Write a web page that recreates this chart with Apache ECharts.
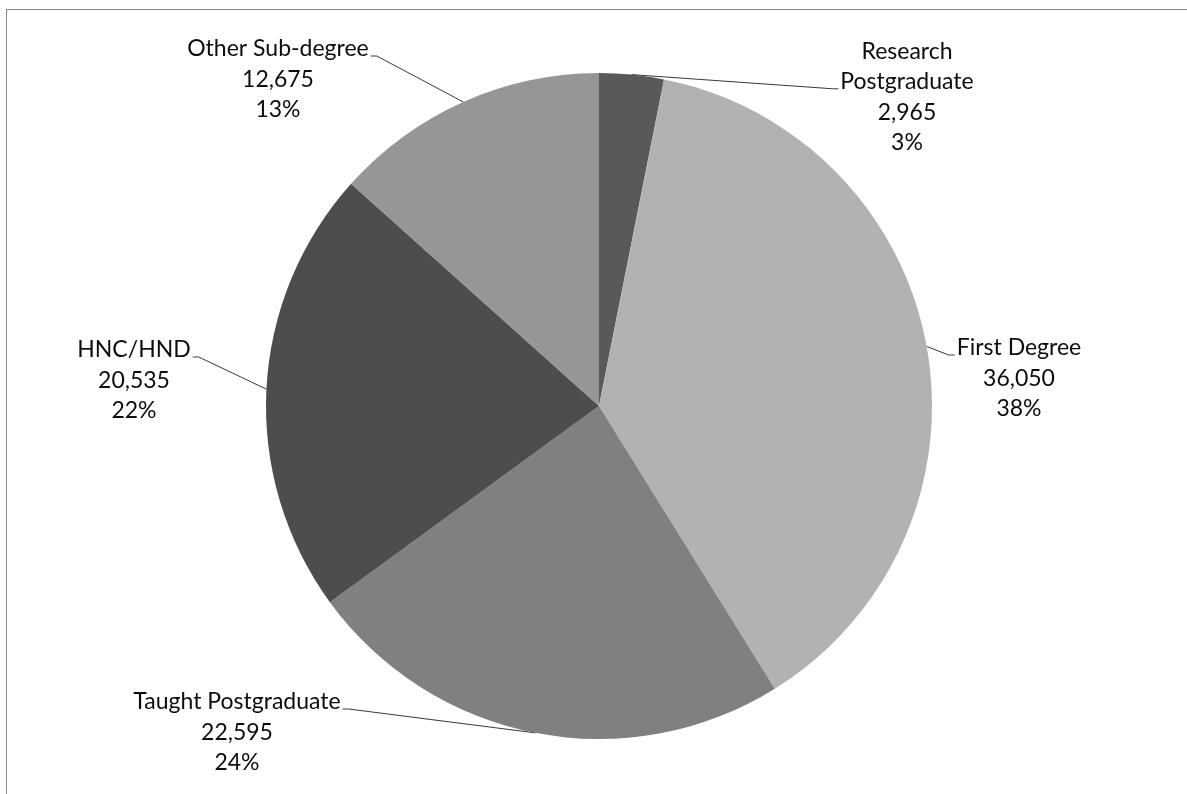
<!DOCTYPE html>
<html>
<head>
<meta charset="utf-8">
<script src="https://cdn.jsdelivr.net/npm/echarts@6/dist/echarts.min.js"></script>
<style>
  html, body { margin: 0; padding: 0; background: #ffffff; }
  #chart { position: absolute; left: 0; top: 0; width: 1187px; height: 794px; }
  #frame { position: absolute; left: 6px; top: 9px; right: 0; bottom: 0;
           border-top: 1px solid #868686; border-left: 1px solid #868686; pointer-events: none; }
</style>
</head>
<body>
<div id="chart"></div>
<div id="frame"></div>
<script>
// ---- data ----
const categories = ['Research\nPostgraduate', 'First Degree', 'Taught Postgraduate', 'HNC/HND', 'Other Sub-degree'];
const values = [2965, 36050, 22595, 20535, 12675];

// ---- styles / layout (not data) ----
const sliceColors = ['#595959', '#b2b2b2', '#808080', '#4d4d4d', '#969696'];
const labelCenters = [[907, 97], [1019, 378.5], [237, 732.5], [134, 380.5], [278, 79.5]];
const FONT_SIZE = 23;
const LINE_H = 30.5;
const FONT_FAMILY = 'Lato';
const PIE_CX = 599;

const measureCtx = document.createElement('canvas').getContext('2d');
measureCtx.font = FONT_SIZE + 'px ' + FONT_FAMILY;

const chart = echarts.init(document.getElementById('chart'), null, { renderer: 'canvas' });

const seriesData = categories.map((c, i) => ({
  name: c,
  value: values[i],
  itemStyle: { color: sliceColors[i] }
}));

function labelText(p) {
  return p.name + '\n' + echarts.format.addCommas(p.value) + '\n' + Math.round(p.percent) + '%';
}

chart.setOption({
  animation: false,
  backgroundColor: '#ffffff',
  series: [{
    type: 'pie',
    center: [PIE_CX, 406],
    radius: [0, 333],
    startAngle: 90,
    clockwise: true,
    data: seriesData,
    itemStyle: { borderWidth: 0 },
    label: {
      show: true,
      position: 'outside',
      fontFamily: FONT_FAMILY,
      fontSize: FONT_SIZE,
      lineHeight: LINE_H,
      color: '#0d0d0d',
      align: 'center',
      formatter: labelText
    },
    labelLine: {
      show: true,
      length: 20,
      length2: 10,
      lineStyle: { color: '#3a3a3a', width: 1 }
    },
    labelLayout: function (params) {
      const i = params.dataIndex;
      const pos = labelCenters[i];
      const nameLines = categories[i].split('\n');
      const attachLine = nameLines.length - 1;
      const totalLines = nameLines.length + 2;
      const top = pos[1] - totalLines * LINE_H / 2;
      const w = measureCtx.measureText(nameLines[attachLine]).width;
      const y = top + attachLine * LINE_H + LINE_H / 2 + 7;
      const onRight = pos[0] > PIE_CX;
      const edge = onRight ? pos[0] - w / 2 - 2 : pos[0] + w / 2 + 2;
      const tick = onRight ? edge - 6 : edge + 6;
      const out = { x: pos[0], y: pos[1], align: 'center', verticalAlign: 'middle', hideOverlap: false };
      if (params.labelLinePoints && params.labelLinePoints.length) {
        const start = params.labelLinePoints[0];
        out.labelLinePoints = [[start[0], start[1]], [tick, y], [edge, y]];
      }
      return out;
    },
    emphasis: { disabled: true }
  }]
});
</script>
</body>
</html>
